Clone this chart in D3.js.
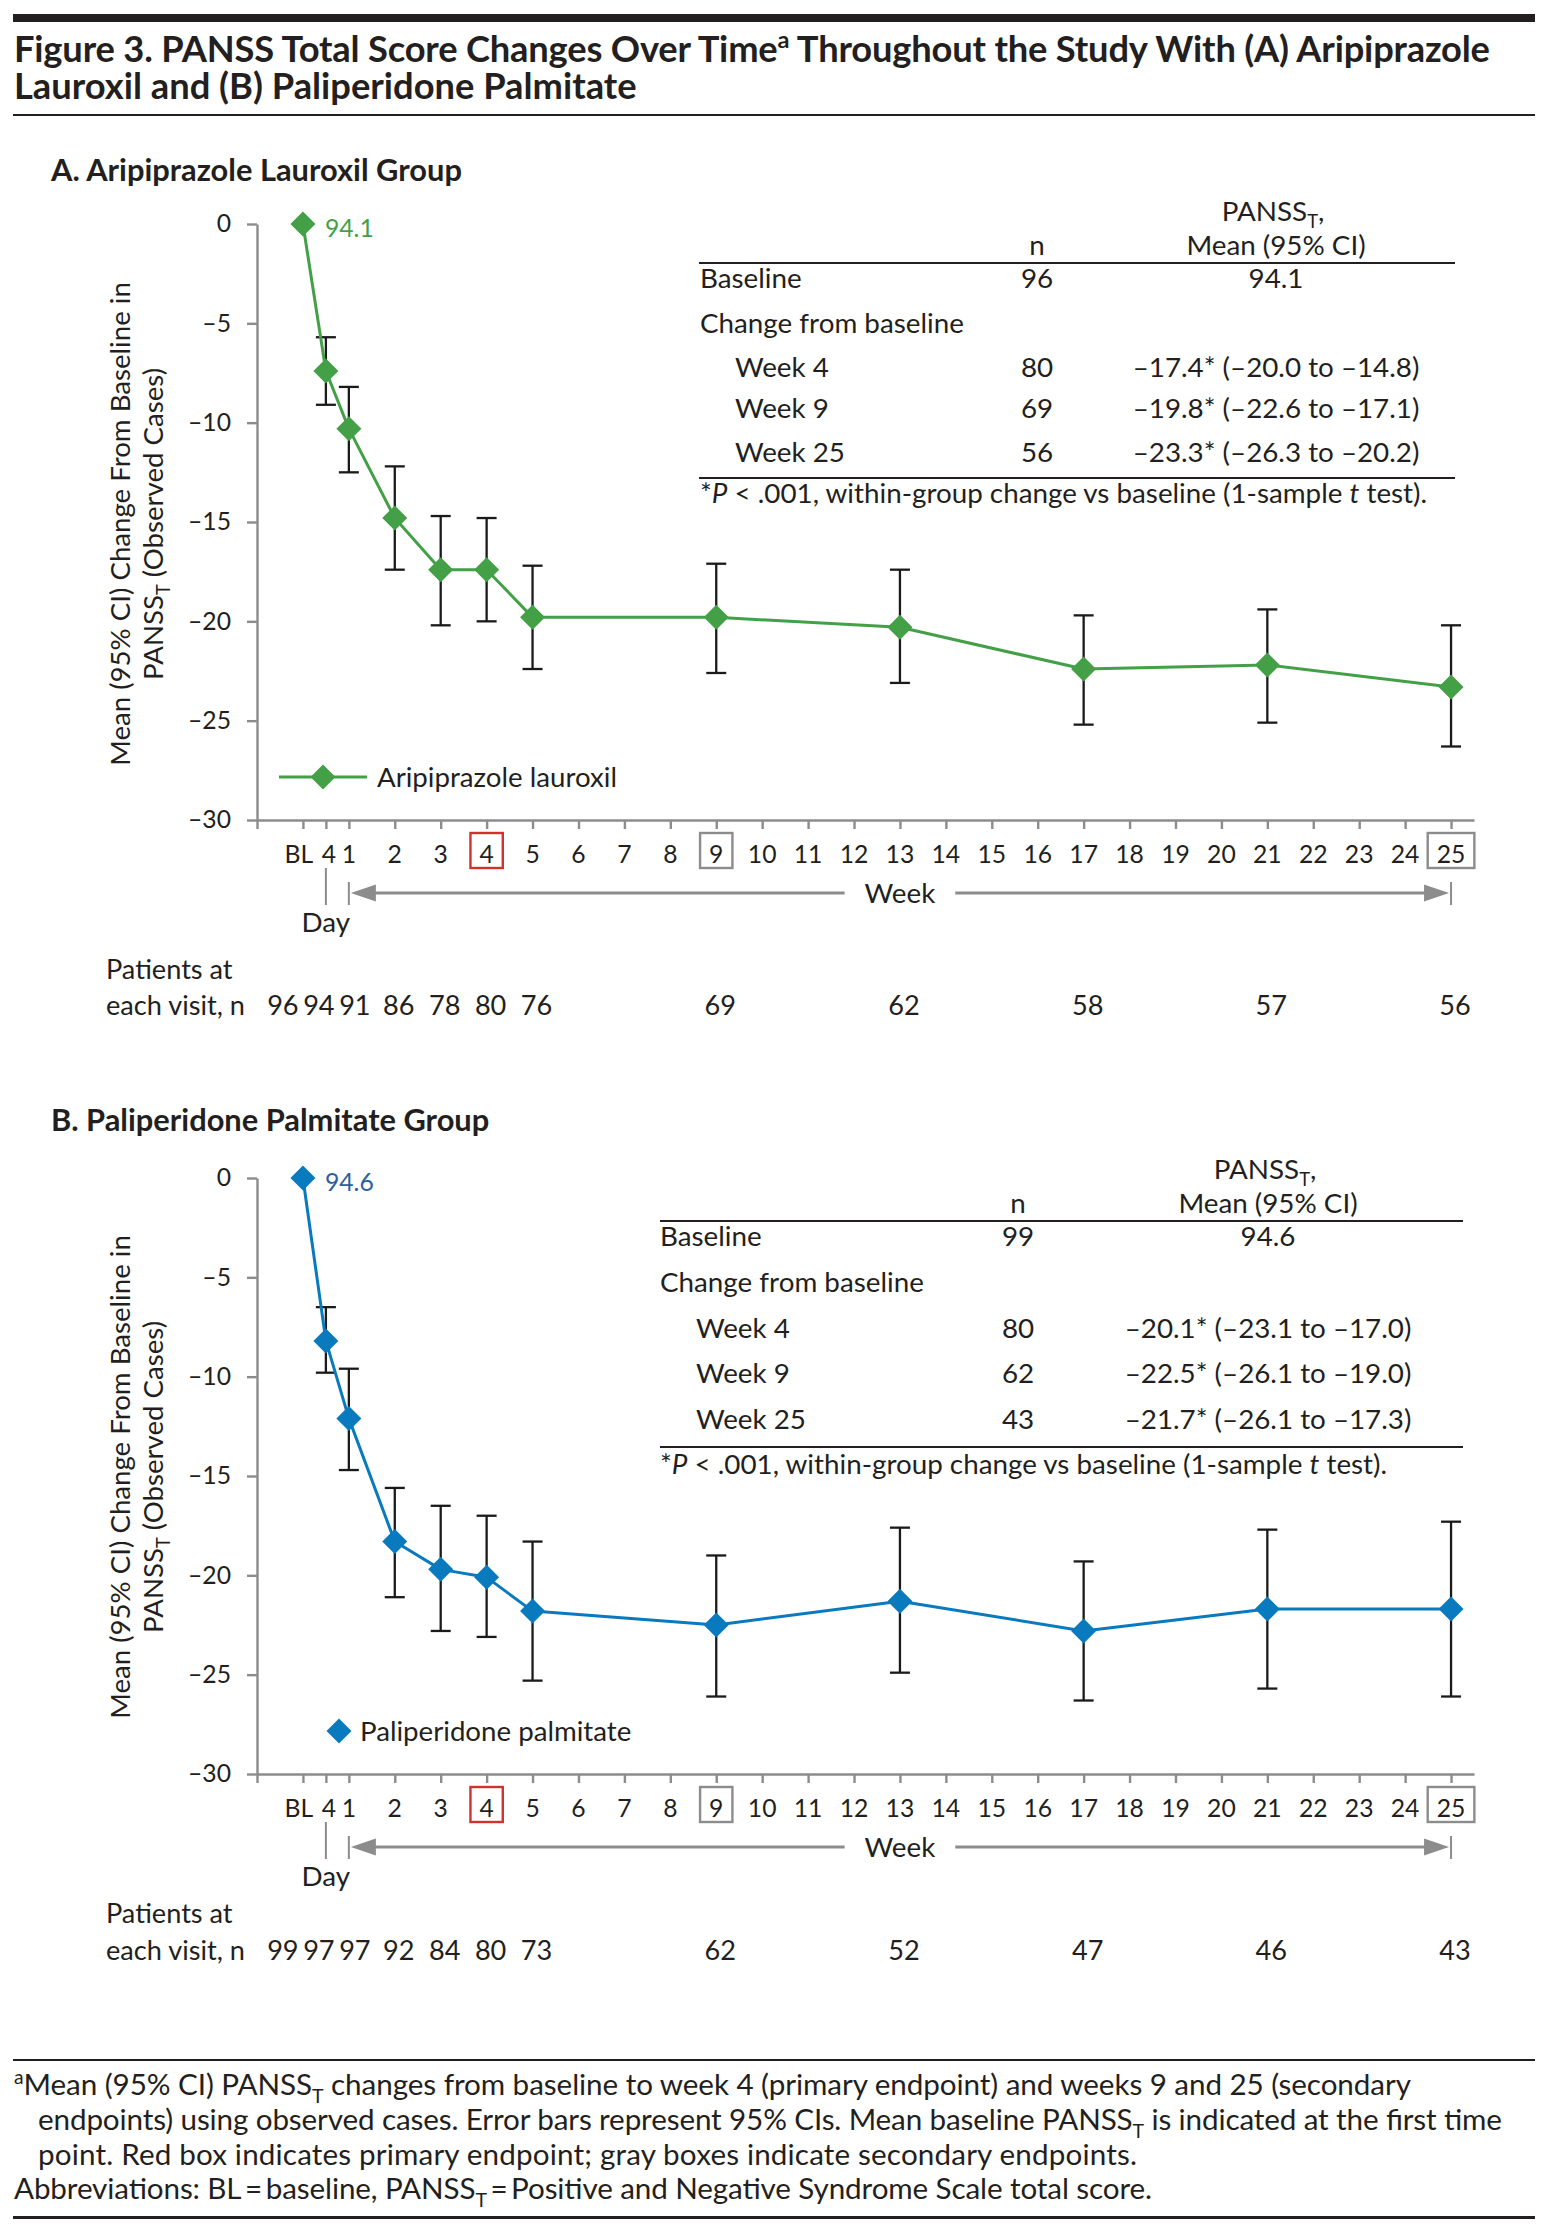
<!DOCTYPE html>
<html><head><meta charset="utf-8">
<script src="https://cdn.jsdelivr.net/npm/d3@7"></script>
<style>
html,body{margin:0;padding:0;background:#fff;}
svg{display:block;}
</style></head><body>
<svg id="chart" width="1557" height="2236"></svg>
<script>
// ---------------- DATA ----------------
const visitLabels = ["BL","Day 4","Week 1","Week 2","Week 3","Week 4","Week 5","Week 9","Week 13","Week 17","Week 21","Week 25"];
const visitWeek   = [0, 0.5, 1, 2, 3, 4, 5, 9, 13, 17, 21, 25];

const ariMean = [0, -7.4, -10.3, -14.8, -17.4, -17.4, -19.8, -19.8, -20.3, -22.4, -22.2, -23.3];
const ariLo   = [null, -9.1, -12.5, -17.4, -20.2, -20.0, -22.4, -22.6, -23.1, -25.2, -25.1, -26.3];
const ariHi   = [null, -5.7, -8.2, -12.2, -14.7, -14.8, -17.2, -17.1, -17.4, -19.7, -19.4, -20.2];
const ariN    = [96, 94, 91, 86, 78, 80, 76, 69, 62, 58, 57, 56];

const palMean = [0, -8.2, -12.1, -18.3, -19.7, -20.1, -21.8, -22.5, -21.3, -22.8, -21.7, -21.7];
const palLo   = [null, -9.8, -14.7, -21.1, -22.8, -23.1, -25.3, -26.1, -24.9, -26.3, -25.7, -26.1];
const palHi   = [null, -6.5, -9.6, -15.6, -16.5, -17.0, -18.3, -19.0, -17.6, -19.3, -17.7, -17.3];
const palN    = [99, 97, 97, 92, 84, 80, 73, 62, 52, 47, 46, 43];

const ariBaseline = 94.1, palBaseline = 94.6;
const ariBaselineN = 96, palBaselineN = 99;

const tableWeeks = ["Week 4", "Week 9", "Week 25"];
const ariTableN = [80, 69, 56];
const ariTableMean = [-17.4, -19.8, -23.3];
const ariTableLo = [-20.0, -22.6, -26.3];
const ariTableHi = [-14.8, -17.1, -20.2];
const palTableN = [80, 62, 43];
const palTableMean = [-20.1, -22.5, -21.7];
const palTableLo = [-23.1, -26.1, -26.1];
const palTableHi = [-17.0, -19.0, -17.3];

const yTicks = [0, -5, -10, -15, -20, -25, -30];
const xTickWeeks = [0, 0.5].concat(d3.range(1, 26));
const xTickLabels = ["BL", "4"].concat(d3.range(1, 26).map(String));
const primaryEndpoint = 4;
const secondaryEndpoints = [9, 25];

// ---------------- SETUP ----------------
const svg = d3.select("#chart");
const FONT = "Lato, 'Open Sans', 'DejaVu Sans', sans-serif";
const INK = "#231f20";
const AXIS = "#8c8c8c";
const MINUS = "\u2013";
const fmt = v => (v < 0 ? MINUS : "") + Math.abs(v).toFixed(1);

function measure(str, weight) {
  const t = svg.append("text").attr("font-family", FONT).attr("font-size", 100)
    .attr("font-weight", weight || 400).text(str);
  const w = t.node().getComputedTextLength(); t.remove(); return w;
}
const fit = (str, target, weight) => 100 * target / measure(str, weight);

const fsTitle = fit("Lauroxil and (B) Paliperidone Palmitate", 626, 700) * 0.995;
const fsPanel = fit("A. Aripiprazole Lauroxil Group", 411, 700);
const fsBody = fit("Change from baseline", 264, 400);
const fsLegend = fit("Aripiprazole lauroxil", 240, 400);
const fsFoot = fit("point. Red box indicates primary endpoint; gray boxes indicate secondary endpoints.", 1098, 400) * 0.99;
const fsYTitle = fit("Mean (95% CI) Change From Baseline in", 484, 400);
const fsPatients = fit("each visit, n", 139, 400);
const fsTick = fit(MINUS + "30", 43, 400);

// rich text: parts = [[str, kind]] kind: "", "sub", "sup", "i"
function rich(parent, x, y, parts, fs, opts = {}) {
  const t = parent.append("text").attr("x", x).attr("y", y)
    .attr("font-family", FONT).attr("font-size", fs)
    .attr("font-weight", opts.weight || 400)
    .attr("fill", opts.fill || INK)
    .attr("text-anchor", opts.anchor || "start");
  if (opts.length) t.attr("textLength", opts.length).attr("lengthAdjust", "spacing");
  let shift = 0;
  parts.forEach(p => {
    const [s, kind] = Array.isArray(p) ? p : [p, ""];
    const ts = t.append("tspan").text(s);
    let target = 0;
    if (kind === "sub") { target = fs * 0.26; ts.attr("font-size", fs * 0.66); }
    else if (kind === "sup") { target = -fs * 0.38; ts.attr("font-size", fs * 0.65); }
    else if (kind === "i") { ts.attr("font-style", "italic"); }
    if (target - shift !== 0) ts.attr("dy", target - shift);
    shift = target;
  });
  return t;
}

// horizontal scale (shared)
const x = d3.scaleLinear().domain([-1, 25.5]).range([257, 1474]);

// diamond symbol (square rotated 45°)
const diamondSq = { draw(ctx, size) { const r = Math.sqrt(size / 2);
  ctx.moveTo(0, -r); ctx.lineTo(r, 0); ctx.lineTo(0, r); ctx.lineTo(-r, 0); ctx.closePath(); } };
const diamond = d3.symbol(diamondSq, 2 * 12.5 * 12.5);

// ---------------- HEADER ----------------
svg.append("rect").attr("x", 13).attr("y", 14).attr("width", 1522).attr("height", 8).attr("fill", INK);
rich(svg, 14, 62, ["Figure 3. PANSS Total Score Changes Over Time", ["a", "sup"], " Throughout the Study With (A) Aripiprazole"], fsTitle, { weight: 700, length: 1476 });
rich(svg, 14, 99, ["Lauroxil and (B) Paliperidone Palmitate"], fsTitle, { weight: 700 });
svg.append("rect").attr("x", 13).attr("y", 114).attr("width", 1522).attr("height", 2).attr("fill", INK);

// ---------------- PANELS ----------------
function drawPanel(cfg) {
  const g = svg.append("g");
  const y = d3.scaleLinear().domain([-30, 0]).range([cfg.yBottom, cfg.yTop]);

  rich(g, 51, cfg.titleY, [cfg.title], fsPanel, { weight: 700 });

  // y axis
  const ya = g.append("g").attr("transform", `translate(${x(-1)},0)`)
    .call(d3.axisLeft(y).tickValues(yTicks).tickSize(10).tickSizeOuter(0).tickPadding(16)
      .tickFormat(v => v === 0 ? "0" : MINUS + Math.abs(v)));
  ya.selectAll("path,line").attr("stroke", AXIS).attr("stroke-width", 2.4);
  ya.selectAll("text").attr("font-family", FONT).attr("font-size", fsTick).attr("fill", INK);

  // x axis
  const xa = g.append("g").attr("transform", `translate(0,${cfg.yBottom})`)
    .call(d3.axisBottom(x).tickValues([-1].concat(xTickWeeks)).tickSize(9).tickSizeOuter(0).tickFormat(""));
  xa.selectAll("path,line").attr("stroke", AXIS).attr("stroke-width", 2.4);

  // x tick labels + endpoint boxes
  const labY = cfg.yBottom + 43;
  xTickWeeks.forEach((w, i) => {
    const dx = i === 0 ? -4 : (i === 1 ? 3 : 0);   // nudge crowded BL / day-4 labels apart
    const t = g.append("text").attr("x", x(w) + dx).attr("y", labY).attr("text-anchor", "middle")
      .attr("font-family", FONT).attr("font-size", fsTick).attr("fill", INK).text(xTickLabels[i]);
    const isWeek = w >= 1;
    let col = null;
    if (isWeek && w === primaryEndpoint) col = "#d2322d";
    if (isWeek && secondaryEndpoints.includes(w)) col = "#8c8c8c";
    if (col) {
      const bw = t.node().getComputedTextLength() + 18;
      g.append("rect").attr("x", x(w) - bw / 2).attr("y", cfg.yBottom + 13)
        .attr("width", bw).attr("height", 35).attr("fill", "none")
        .attr("stroke", col).attr("stroke-width", 2.4);
    }
  });

  // Day / Week annotation
  const ay = cfg.yBottom + 73;
  g.append("line").attr("x1", x(0.5)).attr("x2", x(0.5)).attr("y1", cfg.yBottom + 48).attr("y2", cfg.yBottom + 85)
    .attr("stroke", AXIS).attr("stroke-width", 2);
  g.append("text").attr("x", x(0.5)).attr("y", cfg.yBottom + 112).attr("text-anchor", "middle")
    .attr("font-family", FONT).attr("font-size", fsBody).attr("fill", INK).text("Day");
  [1, 25].forEach(w => g.append("line").attr("x1", x(w)).attr("x2", x(w))
    .attr("y1", cfg.yBottom + 62).attr("y2", cfg.yBottom + 85).attr("stroke", AXIS).attr("stroke-width", 2));
  const wk = g.append("text").attr("x", x(13)).attr("y", ay + fsBody * 0.35).attr("text-anchor", "middle")
    .attr("font-family", FONT).attr("font-size", fsBody).attr("fill", INK).text("Week");
  const ww = wk.node().getComputedTextLength();
  const gapL = x(13) - ww / 2 - 20, gapR = x(13) + ww / 2 + 20;
  const aL = x(1) + 2, aR = x(25) - 2;
  g.append("line").attr("x1", aL + 20).attr("x2", gapL).attr("y1", ay).attr("y2", ay).attr("stroke", AXIS).attr("stroke-width", 3);
  g.append("line").attr("x1", gapR).attr("x2", aR - 20).attr("y1", ay).attr("y2", ay).attr("stroke", AXIS).attr("stroke-width", 3);
  g.append("path").attr("d", `M${aL},${ay}L${aL + 25},${ay - 8.5}L${aL + 25},${ay + 8.5}Z`).attr("fill", AXIS);
  g.append("path").attr("d", `M${aR},${ay}L${aR - 25},${ay - 8.5}L${aR - 25},${ay + 8.5}Z`).attr("fill", AXIS);

  // y-axis title
  const yt = g.append("g").attr("transform", `translate(0,${cfg.yTitleCenter})`);
  rich(yt, 0, 0, ["Mean (95% CI) Change From Baseline in"], fsYTitle, { anchor: "middle" })
    .attr("transform", "translate(120,0) rotate(-90)").attr("dy", fsYTitle * 0.35);
  rich(yt, 0, 0, ["PANSS", ["T", "sub"], " (Observed Cases)"], fsYTitle, { anchor: "middle" })
    .attr("transform", "translate(153,0) rotate(-90)").attr("dy", fsYTitle * 0.35);

  // data
  const pts = visitWeek.map((w, i) => ({ w, m: cfg.mean[i], lo: cfg.lo[i], hi: cfg.hi[i], n: cfg.n[i] }));

  // error bars
  const eb = g.append("g").attr("stroke", "#1a1a1a").attr("stroke-width", 2.3);
  pts.filter(d => d.lo != null).forEach(d => {
    eb.append("line").attr("x1", x(d.w)).attr("x2", x(d.w)).attr("y1", y(d.lo)).attr("y2", y(d.hi));
    eb.append("line").attr("x1", x(d.w) - 10).attr("x2", x(d.w) + 10).attr("y1", y(d.lo)).attr("y2", y(d.lo));
    eb.append("line").attr("x1", x(d.w) - 10).attr("x2", x(d.w) + 10).attr("y1", y(d.hi)).attr("y2", y(d.hi));
  });

  // line
  g.append("path").datum(pts).attr("fill", "none").attr("stroke", cfg.color).attr("stroke-width", 3)
    .attr("stroke-linejoin", "round")
    .attr("d", d3.line().x(d => x(d.w)).y(d => y(d.m)));

  // diamonds
  g.selectAll(".pt").data(pts).join("path").attr("class", "pt")
    .attr("transform", d => `translate(${x(d.w)},${y(d.m)})`).attr("d", diamond).attr("fill", cfg.color);

  // baseline label
  g.append("text").attr("x", x(0) + 22).attr("y", y(0) + 4 + fsTick * 0.35)
    .attr("font-family", FONT).attr("font-size", fsTick).attr("fill", cfg.labelColor).text(cfg.baseline.toFixed(1));

  // legend
  if (cfg.legendLine) {
    g.append("line").attr("x1", 279).attr("x2", 367).attr("y1", cfg.legendY).attr("y2", cfg.legendY)
      .attr("stroke", cfg.color).attr("stroke-width", 3);
  }
  g.append("path").attr("transform", `translate(${cfg.legendDX},${cfg.legendY})`).attr("d", diamond).attr("fill", cfg.color);
  g.append("text").attr("x", cfg.legendTX).attr("y", cfg.legendY + fsLegend * 0.35)
    .attr("font-family", FONT).attr("font-size", fsLegend).attr("fill", INK).text(cfg.legend);

  // table
  const tb = g.append("g").attr("font-family", FONT);
  const R = cfg.ruleY;
  rich(tb, cfg.valX - 3, R - 42, ["PANSS", ["T", "sub"], ","], fsBody, { anchor: "middle" });
  rich(tb, cfg.valX, R - 8, ["Mean (95% CI)"], fsBody, { anchor: "middle" });
  rich(tb, cfg.nX, R - 8, ["n"], fsBody, { anchor: "middle" });
  tb.append("rect").attr("x", cfg.ruleX[0]).attr("y", R - 1).attr("width", cfg.ruleX[1] - cfg.ruleX[0]).attr("height", 2).attr("fill", INK);
  const ro = cfg.rowOff;
  rich(tb, cfg.labelX, R + ro[0], ["Baseline"], fsBody);
  rich(tb, cfg.nX, R + ro[0], [String(cfg.baselineN)], fsBody, { anchor: "middle" });
  rich(tb, cfg.valX, R + ro[0], [cfg.baseline.toFixed(1)], fsBody, { anchor: "middle" });
  rich(tb, cfg.labelX, R + ro[1], ["Change from baseline"], fsBody);
  tableWeeks.forEach((wkLab, i) => {
    const yy = R + ro[i + 2];
    rich(tb, cfg.indentX, yy, [wkLab], fsBody);
    rich(tb, cfg.nX, yy, [String(cfg.tN[i])], fsBody, { anchor: "middle" });
    rich(tb, cfg.valX, yy, [`${fmt(cfg.tMean[i])}* (${fmt(cfg.tLo[i])} to ${fmt(cfg.tHi[i])})`], fsBody, { anchor: "middle" });
  });
  tb.append("rect").attr("x", cfg.ruleX[0]).attr("y", R + cfg.bottomOff - 1).attr("width", cfg.ruleX[1] - cfg.ruleX[0]).attr("height", 2).attr("fill", INK);
  rich(tb, cfg.labelX, R + cfg.footOff, ["*", ["P", "i"], " < .001, within-group change vs baseline (1-sample ", ["t", "i"], " test)."], fsBody);

  // patients at each visit
  rich(g, 106, cfg.nY1, ["Patients at"], fsPatients);
  rich(g, 106, cfg.nY2, ["each visit, n"], fsPatients);
  pts.forEach((d, i) => {
    const cx = i < 3 ? x(0.5) - 7 + (i - 1) * 36 : x(d.w) + 4;
    rich(g, cx, cfg.nY2, [String(d.n)], fsPatients, { anchor: "middle" });
  });
}

drawPanel({
  title: "A. Aripiprazole Lauroxil Group", titleY: 181, yTop: 224, yBottom: 820, yTitleCenter: 524,
  mean: ariMean, lo: ariLo, hi: ariHi, n: ariN, color: "#43a047", labelColor: "#43a047",
  baseline: ariBaseline, baselineN: ariBaselineN,
  legend: "Aripiprazole lauroxil", legendLine: true, legendY: 777, legendDX: 323, legendTX: 377,
  ruleY: 263, ruleX: [699, 1455], labelX: 700, indentX: 735, nX: 1037, valX: 1276,
  rowOff: [25, 70, 114, 155, 199], bottomOff: 215, footOff: 240,
  tN: ariTableN, tMean: ariTableMean, tLo: ariTableLo, tHi: ariTableHi,
  nY1: 979, nY2: 1015
});

drawPanel({
  title: "B. Paliperidone Palmitate Group", titleY: 1131, yTop: 1178, yBottom: 1774, yTitleCenter: 1477,
  mean: palMean, lo: palLo, hi: palHi, n: palN, color: "#0a7abf", labelColor: "#2b5e9d",
  baseline: palBaseline, baselineN: palBaselineN,
  legend: "Paliperidone palmitate", legendLine: false, legendY: 1731, legendDX: 339, legendTX: 360,
  ruleY: 1221, ruleX: [660, 1463], labelX: 660, indentX: 696, nX: 1018, valX: 1268,
  rowOff: [25, 71, 117, 162, 208], bottomOff: 226, footOff: 253,
  tN: palTableN, tMean: palTableMean, tLo: palTableLo, tHi: palTableHi,
  nY1: 1923, nY2: 1960
});

// ---------------- FOOTNOTE ----------------
svg.append("rect").attr("x", 13).attr("y", 2059).attr("width", 1522).attr("height", 2).attr("fill", INK);
rich(svg, 14, 2095, [["a", "sup"], "Mean (95% CI) PANSS", ["T", "sub"], " changes from baseline to week 4 (primary endpoint) and weeks 9 and 25 (secondary"], fsFoot, { length: 1397 });
rich(svg, 38, 2130, ["endpoints) using observed cases. Error bars represent 95% CIs. Mean baseline PANSS", ["T", "sub"], " is indicated at the first time"], fsFoot, { length: 1464 });
rich(svg, 38, 2165, ["point. Red box indicates primary endpoint; gray boxes indicate secondary endpoints."], fsFoot, { length: 1099 });
rich(svg, 14, 2199, ["Abbreviations: BL\u2009=\u2009baseline, PANSS", ["T", "sub"], "\u2009=\u2009Positive and Negative Syndrome Scale total score."], fsFoot, { length: 1138 });
svg.append("rect").attr("x", 13).attr("y", 2216).attr("width", 1522).attr("height", 3).attr("fill", INK);
</script>
</body></html>
